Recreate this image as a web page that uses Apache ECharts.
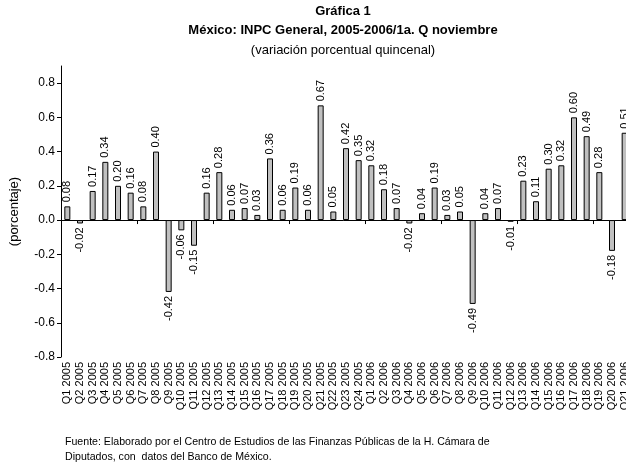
<!DOCTYPE html>
<html>
<head>
<meta charset="utf-8">
<script src="https://cdn.jsdelivr.net/npm/echarts@6/dist/echarts.min.js"></script>
<style>
  html, body { margin: 0; padding: 0; background: #fff; }
  #chart { width: 626px; height: 467px; }
</style>
</head>
<body>
<div id="chart"></div>
<script>
// quincenas 2005 (24) y 2006 (21)
const quincenas2005 = ['Q1 2005','Q2 2005','Q3 2005','Q4 2005','Q5 2005','Q6 2005','Q7 2005','Q8 2005','Q9 2005','Q10 2005','Q11 2005','Q12 2005','Q13 2005','Q14 2005','Q15 2005','Q16 2005','Q17 2005','Q18 2005','Q19 2005','Q20 2005','Q21 2005','Q22 2005','Q23 2005','Q24 2005'];
const quincenas2006 = ['Q1 2006','Q2 2006','Q3 2006','Q4 2006','Q5 2006','Q6 2006','Q7 2006','Q8 2006','Q9 2006','Q10 2006','Q11 2006','Q12 2006','Q13 2006','Q14 2006','Q15 2006','Q16 2006','Q17 2006','Q18 2006','Q19 2006','Q20 2006','Q21 2006'];
const variacion2005 = [0.08,-0.02,0.17,0.34,0.20,0.16,0.08,0.40,-0.42,-0.06,-0.15,0.16,0.28,0.06,0.07,0.03,0.36,0.06,0.19,0.06,0.67,0.05,0.42,0.35];
const variacion2006 = [0.32,0.18,0.07,-0.02,0.04,0.19,0.03,0.05,-0.49,0.04,0.07,-0.01,0.23,0.11,0.30,0.32,0.60,0.49,0.28,-0.18,0.51];

const categorias = quincenas2005.concat(quincenas2006);
const valores = variacion2005.concat(variacion2006);

const font = "'Liberation Sans', Arial, sans-serif";

const datos = valores.map(function (v) {
  const neg = v < 0;
  return {
    value: v,
    label: {
      position: neg ? 'bottom' : 'top',
      align: neg ? 'right' : 'left'
    }
  };
});

const myChart = echarts.init(document.getElementById('chart'));

const option = {
  animation: false,
  backgroundColor: '#fff',
  title: [
    { text: 'Gráfica 1', left: 338, top: 0, textAlign: 'center',
      textStyle: { fontFamily: font, fontSize: 13, fontWeight: 'bold', color: '#000' } },
    { text: 'México: INPC General, 2005-2006/1a. Q noviembre', left: 338, top: 19, textAlign: 'center',
      textStyle: { fontFamily: font, fontSize: 13, fontWeight: 'bold', color: '#000' } },
    { text: '(variación porcentual quincenal)', left: 338, top: 39, textAlign: 'center',
      textStyle: { fontFamily: font, fontSize: 13, fontWeight: 'normal', color: '#000' } },
    { text: 'Fuente: Elaborado por el Centro de Estudios de las Finanzas Públicas de la H. Cámara de\nDiputados, con  datos del Banco de México.',
      left: 60, top: 430,
      textStyle: { fontFamily: font, fontSize: 10.6, fontWeight: 'normal', color: '#000', lineHeight: 15 } }
  ],
  grid: { left: 61, top: 66, width: 570, height: 291, outerBoundsMode: 'none' },
  xAxis: [
    {
      type: 'category',
      data: categorias,
      axisLine: { onZero: true, lineStyle: { color: '#000', width: 1 } },
      axisTick: { show: true, length: 4, lineStyle: { color: '#000' } },
      axisLabel: { show: false }
    },
    {
      type: 'category',
      data: categorias,
      position: 'bottom',
      axisLine: { show: false, onZero: false },
      axisTick: { show: false },
      axisLabel: { interval: 0, rotate: 90, margin: 5, fontFamily: font, fontSize: 11, color: '#000' }
    }
  ],
  yAxis: {
    type: 'value',
    name: '(porcentaje)',
    nameLocation: 'middle',
    nameRotate: 90,
    nameGap: 40,
    nameTextStyle: { fontFamily: font, fontSize: 13, color: '#000' },
    min: -0.8,
    max: 0.9,
    interval: 0.2,
    axisLine: { show: true, lineStyle: { color: '#000', width: 1 } },
    axisTick: { show: true, length: 4, lineStyle: { color: '#000' } },
    splitLine: { show: false },
    axisLabel: {
      showMaxLabel: false,
      margin: 6,
      fontFamily: font,
      fontSize: 12,
      color: '#000',
      formatter: function (v) { return v.toFixed(1); }
    }
  },
  series: [
    {
      name: 'variación',
      type: 'bar',
      xAxisIndex: 0,
      barWidth: 6,
      data: datos,
      itemStyle: { color: '#c0c0c0', borderColor: '#000', borderWidth: 1 },
      label: {
        show: true,
        rotate: 90,
        verticalAlign: 'middle',
        distance: 4,
        fontFamily: font,
        fontSize: 11,
        color: '#000',
        formatter: function (p) { return p.value.toFixed(2); }
      }
    }
  ]
};

myChart.setOption(option);
</script>
</body>
</html>
